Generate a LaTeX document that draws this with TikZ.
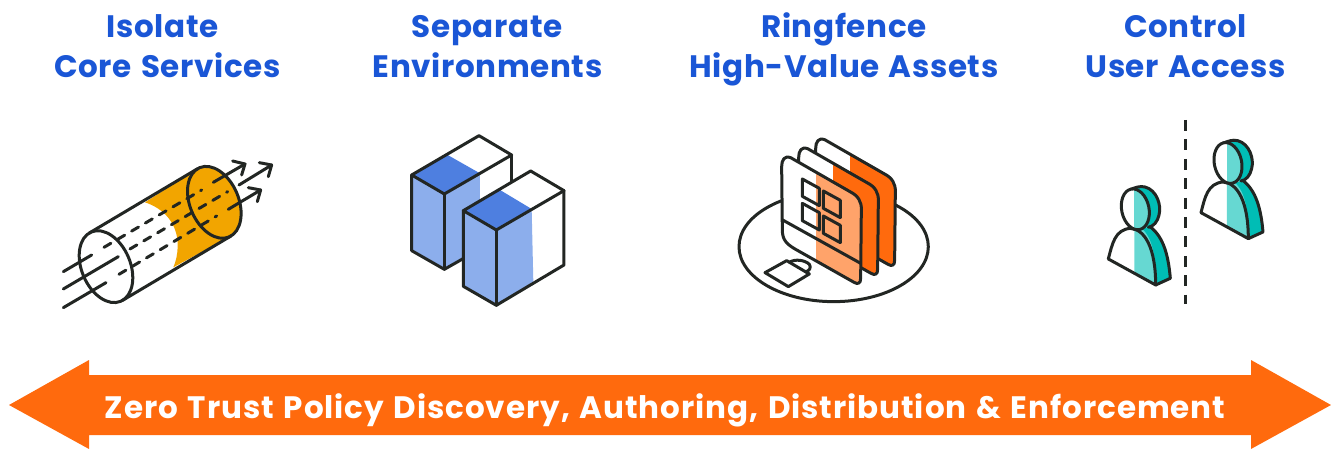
\documentclass[tikz,border=0pt]{standalone}
\usepackage{fontspec}
\setmainfont{Poppins}[LetterSpace=2.0,WordSpace=1.3]
\definecolor{ink}{HTML}{222623}
\definecolor{headblue}{HTML}{1A56D6}
\definecolor{banner}{HTML}{FF6A0D}
\definecolor{amber}{HTML}{F2A500}
\definecolor{bluedark}{HTML}{4E7FE0}
\definecolor{bluelight}{HTML}{8CAEEC}
\definecolor{orangelight}{HTML}{FFA36A}
\definecolor{tealdark}{HTML}{00BDB5}
\definecolor{teallight}{HTML}{66D8D2}
\tikzset{
  heading/.style={anchor=base,text=headblue,font=\fontsize{31}{36}\selectfont\bfseries,inner sep=0pt},
  ln/.style={draw=ink,line width=3pt,line join=round,line cap=round},
  dsh/.style={ln,line width=3pt,dash pattern=on 8pt off 8pt},
}
\newcommand{\panelpath}{(155,110) .. controls (155,90) and (163,76) .. (182,83) -- (360,185) .. controls (385,198) and (395,215) .. (394,240) -- (392,445) .. controls (392,462) and (383,463) .. (372,457) -- (195,357) .. controls (170,342) and (157,330) .. (157,300) -- cycle}
\newcommand{\onepanel}[1]{%
  \begin{scope}
    \fill[white] \panelpath;
    \clip \panelpath;
    \fill[#1] (257,0) rectangle (420,500);
  \end{scope}
  \draw[ln] \panelpath;
}
\newcommand{\oneuser}{%
  % body
  \fill[white] (40,432) .. controls (52,385) and (60,345) .. (105,340) -- (118,340) -- (118,480) -- cycle;
  \fill[teallight] (118,340) -- (150,345) .. controls (175,370) and (182,420) .. (182,510) -- (118,475) -- cycle;
  \fill[tealdark] (150,340) -- (165,335) .. controls (205,365) and (220,420) .. (226,490) -- (182,510) .. controls (182,430) and (175,370) .. (140,340) -- cycle;
  \draw[ln] (40,432) .. controls (52,385) and (60,345) .. (105,340) .. controls (150,342) and (182,400) .. (182,510) -- cycle;
  \draw[ln] (165,335) .. controls (205,365) and (220,420) .. (226,490) -- (182,510);
  % head
  \fill[tealdark] (105,224) .. controls (120,218) and (135,212) .. (150,216) .. controls (185,225) and (200,270) .. (192,300) .. controls (188,320) and (175,335) .. (160,337) -- (130,340) -- cycle;
  \draw[ln] (105,224) .. controls (120,218) and (135,212) .. (150,216) .. controls (185,225) and (200,270) .. (192,300) .. controls (188,320) and (175,335) .. (160,337);
  \begin{scope}
    \clip[shift={(121,283)},rotate=12] (0,0) ellipse [x radius=41,y radius=62];
    \fill[white] (60,200) rectangle (118,360);
    \fill[teallight] (118,200) rectangle (180,360);
  \end{scope}
  \draw[ln,shift={(121,283)},rotate=12] (0,0) ellipse [x radius=41,y radius=62];
}
\begin{document}
\begin{tikzpicture}[x=1pt,y=-1pt]
\useasboundingbox (0,0) rectangle (1331,449);
% headings
\node[heading] (h1a) at (162.5,38) {Isolate};
\node[heading] (h1b) at (167.5,78) {Core Services};
\node[heading] (h2a) at (487,38) {Separate};
\node[heading] (h2b) at (487.5,78) {Environments};
\node[heading] (h3a) at (844,38) {Ringfence};
\node[heading] (h3b) at (844,78) {High-Value Assets};
\node[heading] (h4a) at (1185.5,38) {Control};
\node[heading] (h4b) at (1185.5,78) {User Access};
% banner
\fill[banner] (9,405) -- (89,360) -- (89,375) -- (1251,375) -- (1251,360) -- (1331,405) -- (1251,449) -- (1251,435) -- (89,435) -- (89,449) -- cycle;
\node[anchor=base,text=white,font=\fontsize{31}{36}\selectfont\bfseries\addfontfeature{LetterSpace=3.0},inner sep=0pt] (bt) at (665,418) {Zero Trust Policy Discovery, Authoring, Distribution \& Enforcement};
% cylinder
\begin{scope}[shift={(50,140)},x=0.3333pt,y=-0.3333pt]
  \fill[white] (118,279) -- (443,86) -- (543,288) -- (218,481) -- cycle;
  \fill[amber,shift={(493,187)},rotate=23] (0,0) ellipse [x radius=73,y radius=113];
  \fill[amber] (285,187) .. controls (340,205) and (385,250) .. (383,320) .. controls (383,340) and (378,365) .. (370,382) -- (543,288) -- (443,86) -- cycle;
  \draw[ln] (118,279) -- (443,86);
  \draw[ln] (218,481) -- (543,288);
  \draw[ln,shift={(168,380)},rotate=23] (0,0) ellipse [x radius=73,y radius=113];
  \draw[ln,shift={(493,187)},rotate=23] (0,0) ellipse [x radius=73,y radius=113];
  % flows
  \draw[ln] (40,395) -- (125,345);
  \draw[dsh] (162,322) -- (455,150);
  \draw[ln] (490,127) -- (585,72);
  \draw[ln] (548,63) -- (585,72) -- (575,105);
  \draw[ln] (40,447) -- (205,350);
  \draw[dsh] (240,327) -- (533,155);
  \draw[ln] (567,135) -- (665,75);
  \draw[ln] (628,68) -- (665,75) -- (655,110);
  \draw[ln] (40,503) -- (168,428);
  \draw[dsh] (207,403) -- (500,228);
  \draw[ln] (535,208) -- (632,150);
  \draw[ln] (595,143) -- (632,150) -- (622,185);
\end{scope}
% servers
\begin{scope}[shift={(400,125)},x=0.3333pt,y=-0.3333pt]
  \fill[white] (35,150) -- (237,32) -- (335,90) -- (335,300) -- (133,433) -- (35,377) -- cycle;
  \fill[bluelight] (35,150) -- (133,207) -- (240,145) -- (240,375) -- (133,433) -- (35,377) -- cycle;
  \fill[bluedark] (35,150) -- (143,90) -- (240,145) -- (133,207) -- cycle;
  \draw[ln] (35,150) -- (237,32) -- (335,90) -- (133,207) -- cycle;
  \draw[ln] (35,150) -- (35,377) -- (133,433) -- (200,395);
  \draw[ln] (133,207) -- (133,433);
  \draw[ln] (335,90) -- (335,170);
  \fill[white] (190,257) -- (392,138) -- (492,197) -- (492,420) -- (289,541) -- (190,484) -- cycle;
  \fill[bluelight] (190,257) -- (289,315) -- (395,252) -- (400,470) -- (289,541) -- (190,484) -- cycle;
  \fill[bluedark] (190,257) -- (300,195) -- (395,252) -- (289,315) -- cycle;
  \draw[ln] (190,257) -- (392,138) -- (492,197) -- (289,315) -- cycle;
  \draw[ln] (190,257) -- (190,484) -- (289,541) -- (492,420) -- (492,197);
  \draw[ln] (289,315) -- (289,541);
\end{scope}
% ringfence
\begin{scope}[shift={(730,130)},x=0.3333pt,y=-0.3333pt]
  \draw[ln] (311,350) ellipse [x radius=284,y radius=165];
  % lock
  \draw[ln] (105,428) -- (170,392) -- (238,432) -- (175,470) -- cycle;
  \draw[ln] (178,397) .. controls (195,386) and (225,390) .. (238,403) .. controls (244,412) and (240,422) .. (226,426);
  \begin{scope}[shift={(102,-54)}]\onepanel{banner}\end{scope}
  \begin{scope}[shift={(51,-27)}]\onepanel{banner}\end{scope}
  \onepanel{orangelight}
  \draw[ln] (158,270) -- (392,400);
  \foreach \a/\b in {217/147,280/183,217/220,280/258}{
    \draw[ln] (\a,\b) -- ++(51,28) -- ++(0,52) -- ++(-51,-28) -- cycle;
  }
\end{scope}
% users
\begin{scope}[shift={(1095,115)},x=0.3333pt,y=-0.3333pt]
  \draw[ln,line cap=butt,dash pattern=on 11pt off 8.4pt] (272,15) -- (272,568);
  \oneuser
  \begin{scope}[shift={(278,-139)}]\oneuser\end{scope}
\end{scope}
\end{tikzpicture}
\end{document}
